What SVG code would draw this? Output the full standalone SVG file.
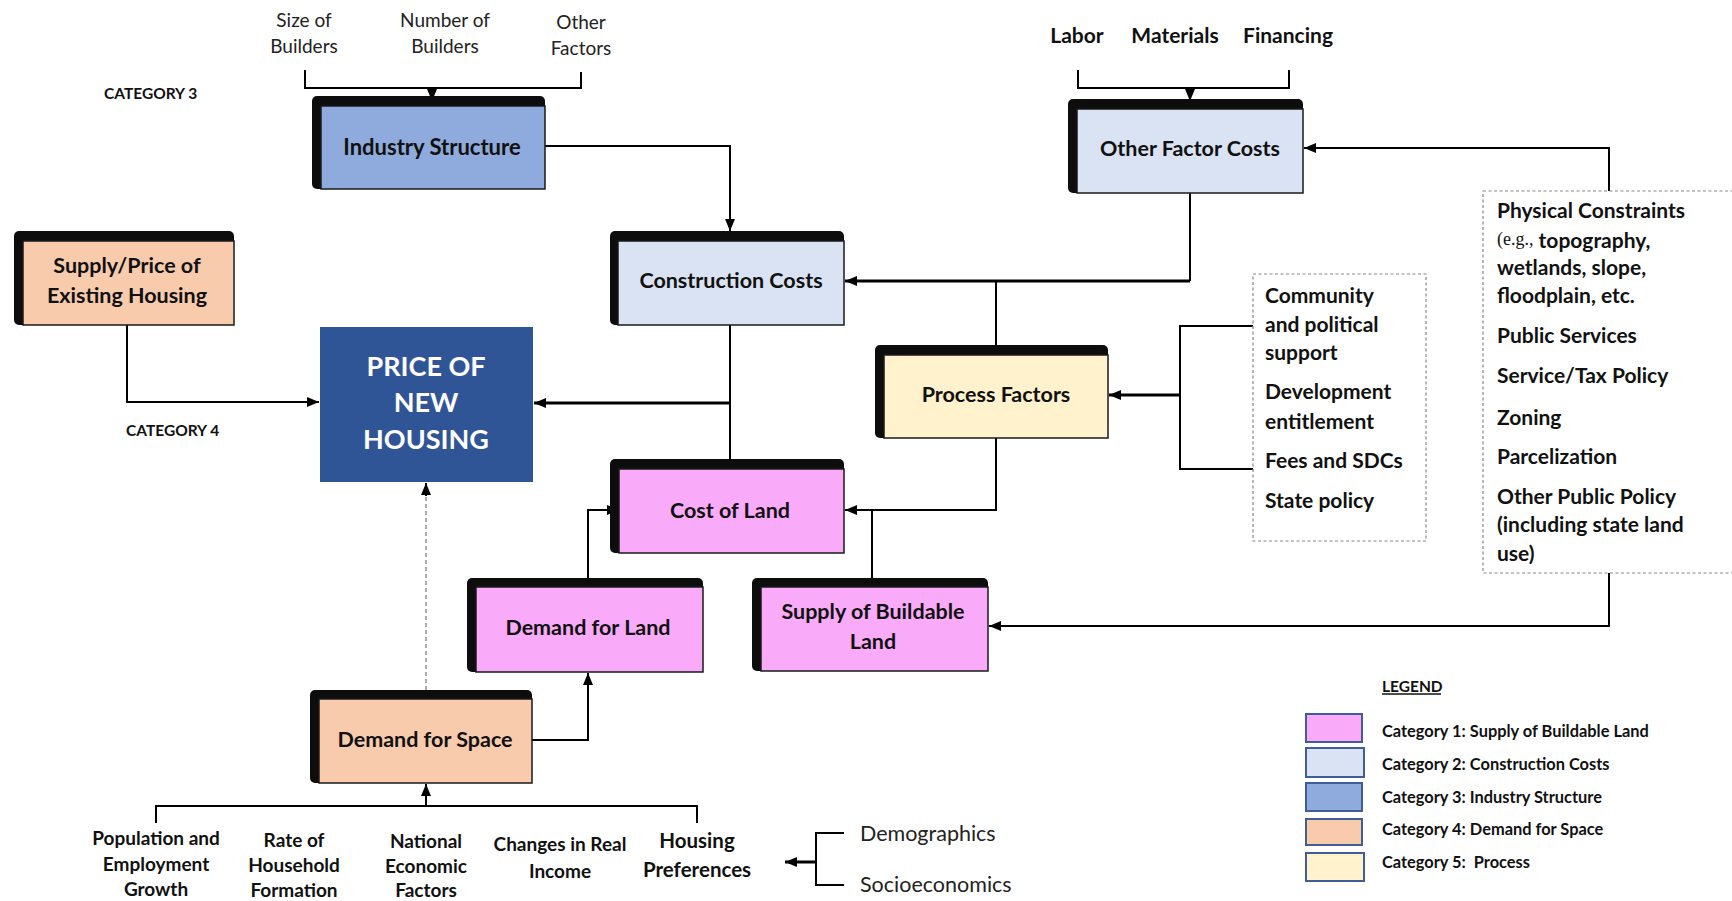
<svg xmlns="http://www.w3.org/2000/svg" width="1732" height="901" viewBox="0 0 1732 901">
<style>
text{font-family:Lato,"Open Sans","Liberation Sans",sans-serif;fill:#111;}
.lbl{font-size:21.5px;font-weight:bold;text-anchor:middle;dominant-baseline:central;}
.top{font-size:19px;text-anchor:middle;dominant-baseline:central;fill:#222;}
.topb{font-size:21px;font-weight:bold;text-anchor:middle;dominant-baseline:central;}
.lst{font-size:21px;font-weight:bold;dominant-baseline:central;}
.bot{font-size:19px;font-weight:bold;text-anchor:middle;dominant-baseline:central;}
.reg{font-size:21.5px;dominant-baseline:central;fill:#222;}
.cat{font-size:15.5px;font-weight:bold;dominant-baseline:central;}
.leg{font-size:16.4px;font-weight:bold;dominant-baseline:central;}
.sh{fill:#0d0d0d;}
.bx{stroke:#1a1a1a;stroke-width:1.5;}
.c{fill:none;stroke:#000;stroke-width:2;}
.ct{fill:none;stroke:#000;stroke-width:3;}
.dash{fill:none;stroke:#888;stroke-width:1.2;stroke-dasharray:3 2.5;}
.sw{stroke:#3f5e96;stroke-width:2;}
.pink{fill:#f9abf9;}
.lblue{fill:#dae3f3;}
.mblue{fill:#8faadc;}
.peach{fill:#f8cbad;}
.cream{fill:#fff2cc;}
</style>
<defs>
<marker id="ah" markerUnits="userSpaceOnUse" markerWidth="12" markerHeight="10" refX="12" refY="5" orient="auto">
<path d="M0,0 L12,5 L0,10 z" fill="#000"/>
</marker>
</defs>
<rect width="1732" height="901" fill="#fff"/>

<g id="connectors">
<path class="c" d="M305,70 V88 H581 V72"/>
<path class="c" d="M432,88 V101" marker-end="url(#ah)"/>
<path class="c" d="M1078,70 V88 H1289 V70"/>
<path class="c" d="M1190,88 V101" marker-end="url(#ah)"/>
<path class="c" d="M545,146 H730 V231" marker-end="url(#ah)"/>
<path class="c" d="M1190,193 V281"/>
<path class="ct" d="M1190,281 H845" marker-end="url(#ah)"/>
<path class="c" d="M996,346 V281"/>
<path class="c" d="M730,325 V459"/>
<path class="ct" d="M730,403 H534" marker-end="url(#ah)"/>
<path class="c" d="M127,325 V402 H319" marker-end="url(#ah)"/>
<path class="c" d="M996,438 V510 H845" marker-end="url(#ah)"/>
<path class="c" d="M872,578 V510"/>
<path class="c" d="M588,578 V510 H619" marker-end="url(#ah)"/>
<path class="c" d="M532,740 H588 V673" marker-end="url(#ah)"/>
<path d="M426,690 V494" fill="none" stroke="#777" stroke-width="1.2" stroke-dasharray="4 3"/>
<path class="c" d="M426,496 V483" marker-end="url(#ah)"/>
<path class="c" d="M156,823 V806 H697 V823"/>
<path class="c" d="M426,806 V784" marker-end="url(#ah)"/>
<path class="c" d="M844,833 H816 V885 H844"/>
<path class="ct" d="M816,862 H785" marker-end="url(#ah)"/>
<path class="c" d="M1609,191 V148 H1304" marker-end="url(#ah)"/>
<path class="c" d="M1609,573 V626 H989" marker-end="url(#ah)"/>
<path class="c" d="M1253,326 H1180 V469 H1253"/>
<path class="ct" d="M1180,395 H1109" marker-end="url(#ah)"/>
</g>

<g id="labels-top">
<text class="top" x="304" y="19">Size of</text>
<text class="top" x="304" y="45">Builders</text>
<text class="top" x="445" y="19">Number of</text>
<text class="top" x="445" y="45">Builders</text>
<text class="top" x="581" y="21">Other</text>
<text class="top" x="581" y="47">Factors</text>
<text class="topb" x="1077" y="34">Labor</text>
<text class="topb" x="1175" y="34">Materials</text>
<text class="topb" x="1288" y="34">Financing</text>
<text class="cat" x="104" y="93">CATEGORY 3</text>
<text class="cat" x="126" y="430">CATEGORY 4</text>
</g>

<g id="industry-structure">
<rect class="sh" x="312" y="96" width="233" height="93" rx="5"/>
<rect class="bx mblue" x="321" y="106" width="224" height="83"/>
<text class="lbl" x="432" y="146" style="font-size:22px">Industry Structure</text>
</g>

<g id="supply-existing">
<rect class="sh" x="14" y="231" width="220" height="94" rx="5"/>
<rect class="bx peach" x="23" y="241" width="211" height="84"/>
<text class="lbl" x="127" y="265">Supply/Price of</text>
<text class="lbl" x="127" y="295">Existing Housing</text>
</g>

<g id="other-factor-costs">
<rect class="sh" x="1068" y="99" width="235" height="94" rx="5"/>
<rect class="bx lblue" x="1077" y="109" width="226" height="84"/>
<text class="lbl" x="1190" y="148">Other Factor Costs</text>
</g>

<g id="construction-costs">
<rect class="sh" x="610" y="231" width="234" height="94" rx="5"/>
<rect class="bx lblue" x="618" y="241" width="226" height="84"/>
<text class="lbl" x="731" y="280">Construction Costs</text>
</g>

<g id="price-new-housing">
<rect x="320" y="327" width="213" height="155" fill="#2f5597"/>
<text class="lbl" x="426" y="365" style="font-size:27px;fill:#fff">PRICE OF</text>
<text class="lbl" x="426" y="401" style="font-size:27px;fill:#fff">NEW</text>
<text class="lbl" x="426" y="438" style="font-size:27px;fill:#fff">HOUSING</text>
</g>

<g id="process-factors">
<rect class="sh" x="875" y="345" width="233" height="93" rx="5"/>
<rect class="bx cream" x="884" y="355" width="224" height="83"/>
<text class="lbl" x="996" y="394">Process Factors</text>
</g>

<g id="cost-of-land">
<rect class="sh" x="610" y="459" width="234" height="94" rx="5"/>
<rect class="bx pink" x="619" y="469" width="225" height="84"/>
<text class="lbl" x="730" y="510">Cost of Land</text>
</g>

<g id="demand-for-land">
<rect class="sh" x="467" y="578" width="236" height="94" rx="5"/>
<rect class="bx pink" x="476" y="587" width="227" height="85"/>
<text class="lbl" x="588" y="627">Demand for Land</text>
</g>

<g id="supply-buildable-land">
<rect class="sh" x="752" y="578" width="236" height="93" rx="5"/>
<rect class="bx pink" x="761" y="587" width="227" height="84"/>
<text class="lbl" x="873" y="611">Supply of Buildable</text>
<text class="lbl" x="873" y="641">Land</text>
</g>

<g id="demand-for-space">
<rect class="sh" x="310" y="690" width="222" height="93" rx="5"/>
<rect class="bx peach" x="319" y="699" width="213" height="84"/>
<text class="lbl" x="425" y="739">Demand for Space</text>
</g>

<g id="process-list">
<rect class="dash" x="1253" y="274" width="173" height="267"/>
<text class="lst" x="1265" y="294">Community</text>
<text class="lst" x="1265" y="323">and political</text>
<text class="lst" x="1265" y="351">support</text>
<text class="lst" x="1265" y="390">Development</text>
<text class="lst" x="1265" y="420">entitlement</text>
<text class="lst" x="1265" y="459">Fees and SDCs</text>
<text class="lst" x="1265" y="499">State policy</text>
</g>

<g id="constraints-list">
<rect class="dash" x="1483" y="191" width="270" height="382"/>
<text class="lst" x="1497" y="209">Physical Constraints</text>
<text class="lst" x="1497" y="239"><tspan style="font-family:'Liberation Serif',serif;font-weight:normal;font-size:18px">(e.g.,</tspan> topography,</text>
<text class="lst" x="1497" y="266">wetlands, slope,</text>
<text class="lst" x="1497" y="294">floodplain, etc.</text>
<text class="lst" x="1497" y="334">Public Services</text>
<text class="lst" x="1497" y="374">Service/Tax Policy</text>
<text class="lst" x="1497" y="416">Zoning</text>
<text class="lst" x="1497" y="455">Parcelization</text>
<text class="lst" x="1497" y="495">Other Public Policy</text>
<text class="lst" x="1497" y="523">(including state land</text>
<text class="lst" x="1497" y="552">use)</text>
</g>

<g id="demand-factors">
<text class="bot" x="156" y="837">Population and</text>
<text class="bot" x="156" y="863">Employment</text>
<text class="bot" x="156" y="888">Growth</text>
<text class="bot" x="294" y="839">Rate of</text>
<text class="bot" x="294" y="864">Household</text>
<text class="bot" x="294" y="889">Formation</text>
<text class="bot" x="426" y="840">National</text>
<text class="bot" x="426" y="865">Economic</text>
<text class="bot" x="426" y="889">Factors</text>
<text class="bot" x="560" y="843">Changes in Real</text>
<text class="bot" x="560" y="870">Income</text>
<text class="bot" x="697" y="840" style="font-size:20.5px">Housing</text>
<text class="bot" x="697" y="869" style="font-size:20.5px">Preferences</text>
<text class="reg" x="860" y="833">Demographics</text>
<text class="reg" x="860" y="884">Socioeconomics</text>
</g>

<g id="legend">
<text class="cat" x="1382" y="686">LEGEND</text>
<path d="M1382,694 H1441" stroke="#111" stroke-width="1.5"/>
<rect class="sw pink" x="1306" y="714" width="56" height="28"/>
<rect class="sw lblue" x="1306" y="748" width="58" height="29"/>
<rect class="sw mblue" x="1306" y="783" width="56" height="28"/>
<rect class="sw peach" x="1306" y="819" width="56" height="26"/>
<rect class="sw cream" x="1306" y="853" width="58" height="28"/>
<text class="leg" x="1382" y="730">Category 1: Supply of Buildable Land</text>
<text class="leg" x="1382" y="763">Category 2: Construction Costs</text>
<text class="leg" x="1382" y="796">Category 3: Industry Structure</text>
<text class="leg" x="1382" y="828">Category 4: Demand for Space</text>
<text class="leg" x="1382" y="861" xml:space="preserve">Category 5:  Process</text>
</g>
</svg>
